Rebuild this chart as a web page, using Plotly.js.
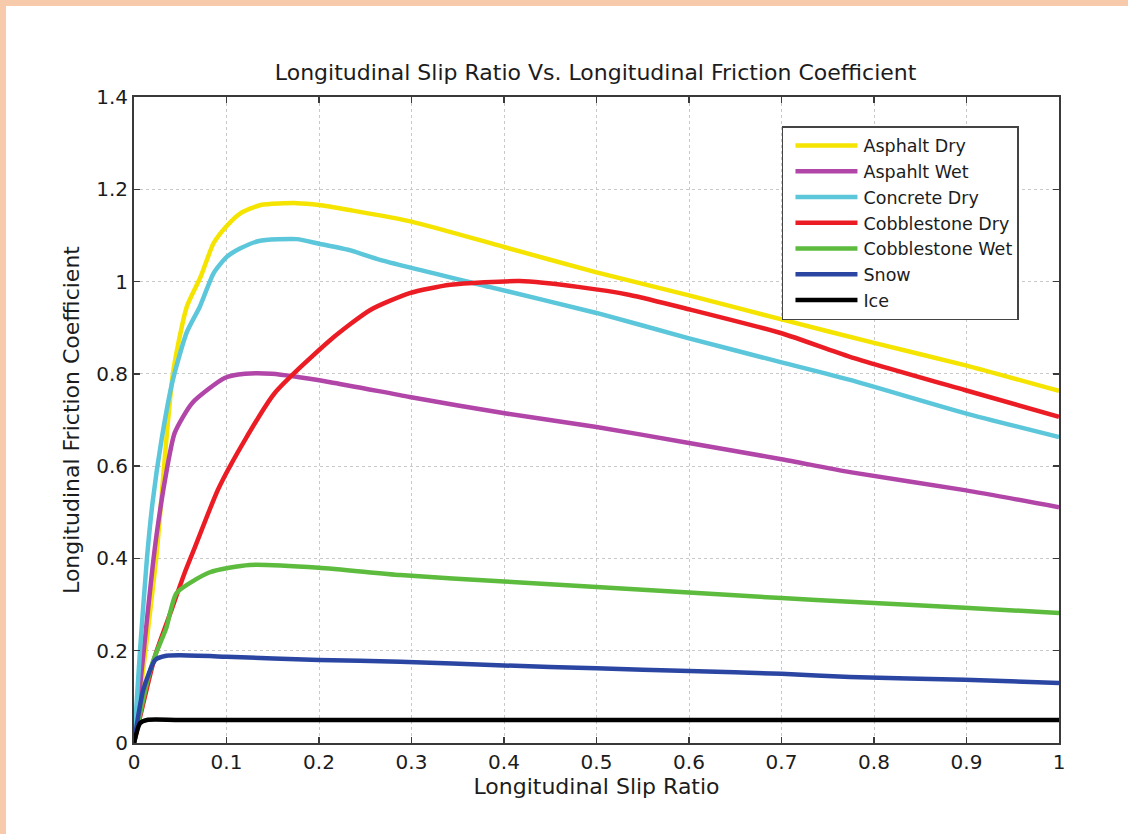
<!DOCTYPE html>
<html>
<head>
<meta charset="utf-8">
<script src="https://cdn.plot.ly/plotly-3.0.1.min.js"></script>
<style>
  html, body { margin: 0; padding: 0; background: #ffffff; }
  #chart { position: absolute; left: 0; top: 0; width: 1128px; height: 834px; }
  .band { position: absolute; background: #F7CAAC; z-index: 10; }
</style>
</head>
<body>
<div id="chart"></div>
<div class="band" style="left:0;top:0;width:1128px;height:6px;"></div>
<div class="band" style="left:0;top:0;width:6px;height:834px;"></div>
<script>
// ---- data ----
const seriesNames = ["Asphalt Dry", "Aspahlt Wet", "Concrete Dry", "Cobblestone Dry", "Cobblestone Wet", "Snow", "Ice"];
const seriesColors = ["#F5E400", "#B245A8", "#5CC6DA", "#EC1C24", "#5DBB3E", "#2B46A2", "#000000"];

const asphaltDryX = [0, 0.01, 0.024, 0.042, 0.057, 0.072, 0.086, 0.10, 0.115, 0.137, 0.176, 0.20, 0.233, 0.30, 0.40, 0.50, 0.60, 0.70, 0.80, 0.898, 1.0];
const asphaltDryY = [0, 0.16, 0.40, 0.80, 0.945, 1.01, 1.083, 1.12, 1.148, 1.166, 1.17, 1.166, 1.155, 1.13, 1.075, 1.02, 0.97, 0.918, 0.867, 0.819, 0.763];

const asphaltWetX = [0, 0.01, 0.02, 0.025, 0.0335, 0.044, 0.063, 0.098, 0.12, 0.149, 0.212, 0.298, 0.399, 0.50, 0.60, 0.70, 0.774, 0.898, 1.0];
const asphaltWetY = [0, 0.19, 0.38, 0.46, 0.57, 0.672, 0.737, 0.791, 0.80, 0.80, 0.782, 0.75, 0.715, 0.685, 0.65, 0.615, 0.587, 0.548, 0.511];

const concreteDryX = [0, 0.0065, 0.014, 0.02, 0.03, 0.042, 0.057, 0.071, 0.086, 0.10, 0.115, 0.135, 0.176, 0.20, 0.233, 0.266, 0.385, 0.50, 0.60, 0.70, 0.774, 0.898, 1.0];
const concreteDryY = [0, 0.2, 0.4, 0.52, 0.66, 0.787, 0.89, 0.945, 1.018, 1.053, 1.072, 1.088, 1.092, 1.082, 1.068, 1.047, 0.988, 0.932, 0.877, 0.825, 0.787, 0.715, 0.663];

const cobbleDryX = [0, 0.023, 0.039, 0.055, 0.066, 0.091, 0.12, 0.152, 0.212, 0.255, 0.298, 0.342, 0.417, 0.482, 0.536, 0.60, 0.70, 0.774, 0.898, 1.0];
const cobbleDryY = [0, 0.19, 0.28, 0.37, 0.425, 0.55, 0.657, 0.758, 0.873, 0.938, 0.975, 0.993, 1.001, 0.988, 0.971, 0.94, 0.888, 0.837, 0.765, 0.707];

const cobbleWetX = [0, 0.014, 0.021, 0.035, 0.046, 0.082, 0.125, 0.20, 0.288, 0.40, 0.50, 0.60, 0.70, 0.774, 0.898, 1.0];
const cobbleWetY = [0, 0.13, 0.18, 0.25, 0.325, 0.37, 0.386, 0.38, 0.364, 0.35, 0.338, 0.326, 0.314, 0.306, 0.293, 0.282];

const snowX = [0, 0.01, 0.023, 0.035, 0.05, 0.10, 0.20, 0.288, 0.40, 0.50, 0.60, 0.70, 0.774, 0.898, 1.0];
const snowY = [0, 0.115, 0.18, 0.189, 0.19, 0.187, 0.18, 0.176, 0.168, 0.162, 0.156, 0.15, 0.143, 0.137, 0.13];

const iceX = [0, 0.0065, 0.014, 0.05, 1.0];
const iceY = [0, 0.043, 0.05, 0.05, 0.05];

const xTickVals = [0, 0.1, 0.2, 0.3, 0.4, 0.5, 0.6, 0.7, 0.8, 0.9, 1];
const xTickText = ["0", "0.1", "0.2", "0.3", "0.4", "0.5", "0.6", "0.7", "0.8", "0.9", "1"];
const yTickVals = [0, 0.2, 0.4, 0.6, 0.8, 1, 1.2, 1.4];
const yTickText = ["0", "0.2", "0.4", "0.6", "0.8", "1", "1.2", "1.4"];

const chartTitle = "Longitudinal Slip Ratio Vs. Longitudinal Friction Coefficient";
const xTitle = "Longitudinal Slip Ratio";
const yTitle = "Longitudinal Friction Coefficient";

const xs = [asphaltDryX, asphaltWetX, concreteDryX, cobbleDryX, cobbleWetX, snowX, iceX];
const ys = [asphaltDryY, asphaltWetY, concreteDryY, cobbleDryY, cobbleWetY, snowY, iceY];

const FONT = "DejaVu Sans, Arial, sans-serif";
const TXT = "#1c1c1c";

const traces = seriesNames.map((n, i) => ({
  type: "scatter", mode: "lines", name: n,
  x: xs[i], y: ys[i],
  line: { color: seriesColors[i], width: 4.5, shape: "spline", smoothing: 0.6 }
}));

const axisCommon = {
  showline: true, linecolor: "#3a3a3a", linewidth: 2, mirror: "ticks",
  ticks: "inside", ticklen: 6, tickwidth: 1.5, tickcolor: "#3a3a3a",
  showgrid: true, gridcolor: "#c9c9c9", gridwidth: 1, griddash: "dot",
  zeroline: false, tickfont: { family: FONT, size: 20, color: TXT }
};

const layout = {
  width: 1128, height: 834,
  margin: { l: 134, r: 69, t: 97, b: 91 },
  paper_bgcolor: "#ffffff", plot_bgcolor: "#ffffff",
  title: { text: chartTitle, font: { family: FONT, size: 22, color: TXT },
           x: 0.528, xanchor: "center", y: 1 - 72 / 834, yref: "container", yanchor: "middle" },
  xaxis: Object.assign({}, axisCommon, {
    range: [0, 1], tickmode: "array", tickvals: xTickVals, ticktext: xTickText,
    title: { text: xTitle, font: { family: FONT, size: 22, color: TXT }, standoff: 6 }
  }),
  yaxis: Object.assign({}, axisCommon, {
    range: [0, 1.4], tickmode: "array", tickvals: yTickVals, ticktext: yTickText,
    title: { text: yTitle, font: { family: FONT, size: 22, color: TXT }, standoff: 10 }
  }),
  legend: {
    x: 0.7005, y: 0.955, xanchor: "left", yanchor: "top",
    bgcolor: "#ffffff", bordercolor: "#444444", borderwidth: 1.5,
    font: { family: FONT, size: 17.5, color: TXT }, tracegroupgap: 0,
    itemwidth: 70
  },
  showlegend: true
};

Plotly.newPlot("chart", traces, layout, { displayModeBar: false, staticPlot: true }).then(gd => {
  // lengthen the legend line samples to match the reference legend
  gd.querySelectorAll(".legend .legendlines path").forEach(p => p.setAttribute("d", "M12,0h62"));
});
</script>
</body>
</html>
